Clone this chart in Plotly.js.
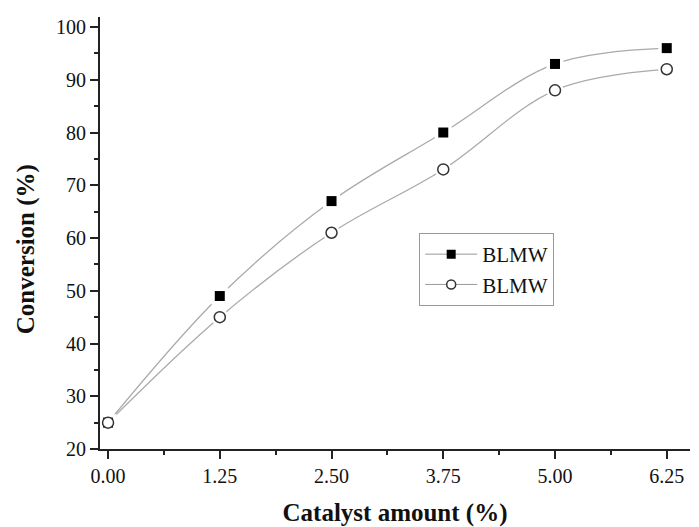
<!DOCTYPE html>
<html>
<head>
<meta charset="utf-8">
<script src="https://cdn.plot.ly/plotly-3.0.1.min.js"></script>
<style>html,body{margin:0;padding:0;background:#fff}#chart{width:699px;height:527px}</style>
</head>
<body>
<div id="chart"></div>
<script>
var catalyst = [0.00, 1.25, 2.50, 3.75, 5.00, 6.25];
var conversionSquare = [25, 49, 67, 80, 93, 96];
var conversionCircle = [25, 45, 61, 73, 88, 92];
var tickVals = [0.00, 1.25, 2.50, 3.75, 5.00, 6.25];
var tickText = ['0.00', '1.25', '2.50', '3.75', '5.00', '6.25'];
var seriesNames = ['BLMW', 'BLMW'];
var xTitle = 'Catalyst amount (%)';
var yTitle = 'Conversion (%)';

var serif = 'Liberation Serif, Times New Roman, serif';
var lineStyle = {color: '#aaaaaa', width: 1.3, shape: 'spline', smoothing: 1};
var circleMarker = {symbol: 'circle', size: 11, color: '#ffffff', line: {color: '#333333', width: 1.5}};
var traces = [
  {x: catalyst, y: conversionSquare, mode: 'lines', line: lineStyle, showlegend: false, hoverinfo: 'skip'},
  {x: catalyst, y: conversionCircle, mode: 'lines', line: lineStyle, showlegend: false, hoverinfo: 'skip'},
  {x: catalyst, y: conversionSquare, mode: 'markers', marker: {symbol: 'square', size: 17, color: '#ffffff'}, showlegend: false, hoverinfo: 'skip'},
  {x: catalyst, y: conversionCircle, mode: 'markers', marker: {symbol: 'circle', size: 17, color: '#ffffff'}, showlegend: false, hoverinfo: 'skip'},
  {x: catalyst, y: conversionSquare, mode: 'markers', marker: {symbol: 'square', size: 10, color: '#000000'}, showlegend: false},
  {x: catalyst, y: conversionCircle, mode: 'markers', marker: circleMarker, showlegend: false},
  {x: [null], y: [null], mode: 'lines+markers', name: seriesNames[0], line: {color: '#999999', width: 1}, marker: {symbol: 'square', size: 9, color: '#000000'}},
  {x: [null], y: [null], mode: 'lines+markers', name: seriesNames[1], line: {color: '#999999', width: 1}, marker: {symbol: 'circle', size: 9, color: '#ffffff', line: {color: '#333333', width: 1.5}}}
];

var axFont = {family: serif, size: 20, color: '#111'};
var layout = {
  width: 699, height: 527,
  margin: {l: 100, r: 9, t: 17, b: 78},
  paper_bgcolor: '#fff', plot_bgcolor: '#fff',
  showlegend: true,
  legend: {
    x: 0.541, y: 0.5, xanchor: 'left', yanchor: 'top',
    bordercolor: '#999', borderwidth: 1, bgcolor: '#fff',
    font: {family: serif, size: 21, color: '#111'},
    tracegroupgap: 0, itemwidth: 52
  },
  annotations: [{
    text: '<b>' + yTitle + '</b>', xref: 'paper', yref: 'paper',
    x: -0.125, y: 0.463, xanchor: 'center', yanchor: 'middle', textangle: -90,
    showarrow: false, font: {family: serif, size: 25, color: '#111'}
  }],
  xaxis: {
    range: [-0.09, 6.51], showgrid: false, zeroline: false,
    showline: true, linecolor: '#222', linewidth: 2,
    tickmode: 'array', tickvals: tickVals, ticktext: tickText,
    ticks: 'outside', ticklen: 8, tickwidth: 2, tickcolor: '#222',
    minor: {dtick: 0.625, tick0: 0, ticks: 'outside', ticklen: 4, tickwidth: 2, tickcolor: '#222', showgrid: false},
    tickfont: axFont,
    title: {text: '<b>' + xTitle + '</b>', font: {family: serif, size: 25, color: '#111'}, standoff: 19}
  },
  yaxis: {
    range: [20, 101.9], showgrid: false, zeroline: false,
    showline: true, linecolor: '#222', linewidth: 2,
    tickmode: 'linear', tick0: 20, dtick: 10,
    ticks: 'outside', ticklen: 8, tickwidth: 2, tickcolor: '#222',
    minor: {dtick: 5, tick0: 20, ticks: 'outside', ticklen: 4, tickwidth: 2, tickcolor: '#222', showgrid: false},
    tickfont: axFont
  }
};

Plotly.newPlot('chart', traces, layout, {displayModeBar: false, staticPlot: true});
</script>
</body>
</html>
